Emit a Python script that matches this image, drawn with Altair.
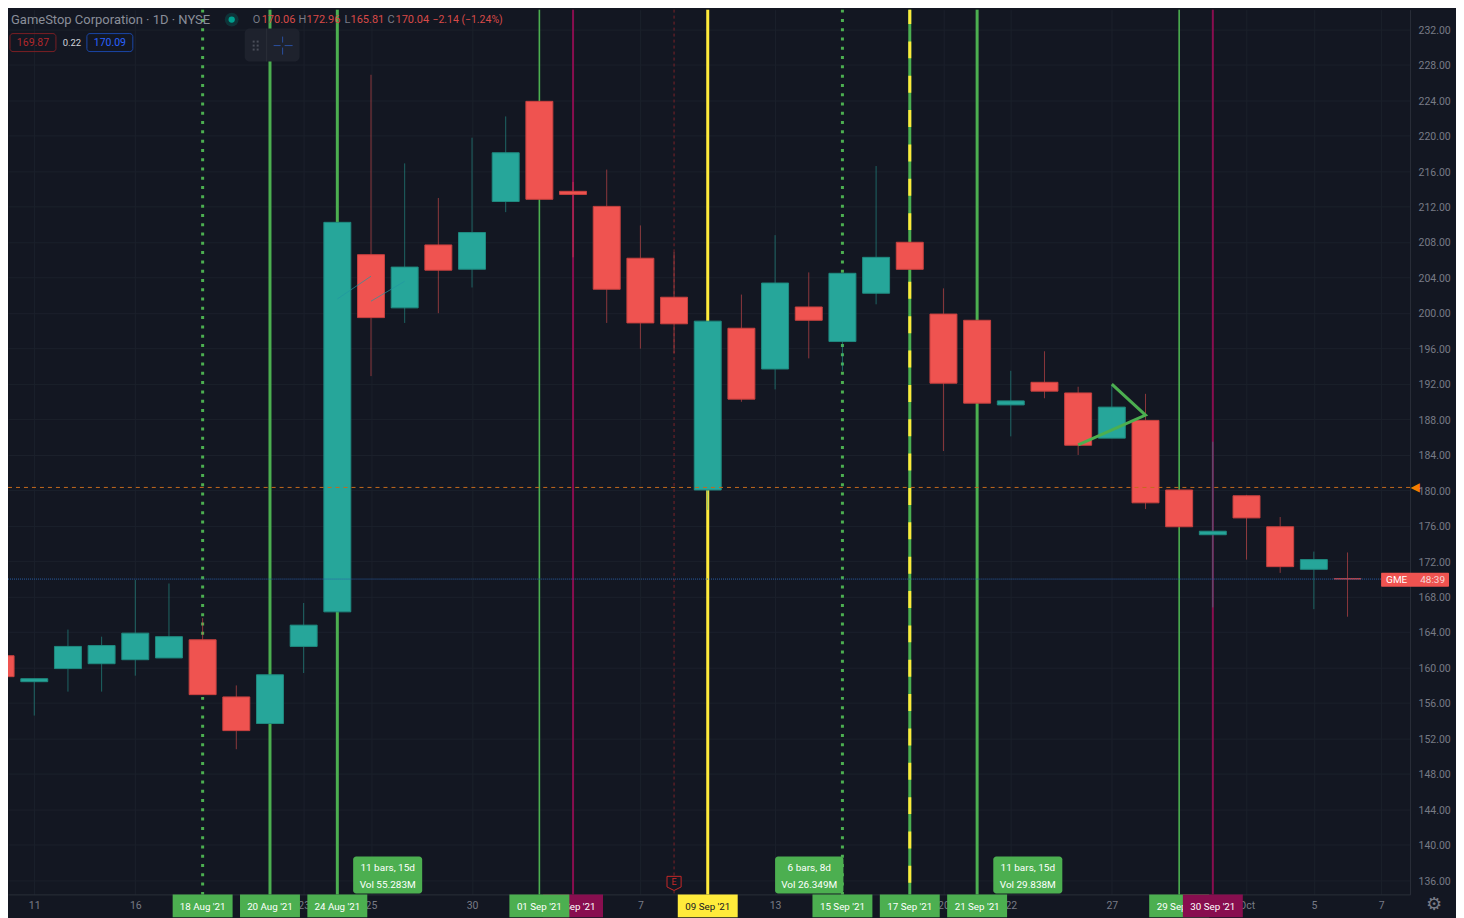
import altair as alt
import pandas as pd

idx = list(range(-1, 40))
opens = [161.35,158.42,159.9,160.45,160.9,161.1,163.15,156.7,153.7,162.4,166.3,206.6,200.6,207.7,204.96,212.6,223.9,213.75,212.05,206.2,201.8,180.05,198.3,193.7,200.7,196.8,202.25,208.0,199.9,199.2,189.65,192.2,191.0,185.9,187.9,180.05,175.0,179.4,175.9,171.1,170.06]
closes = [158.99,158.76,162.4,162.5,163.9,163.5,156.96,152.9,159.2,164.8,210.25,199.5,205.2,204.85,209.1,218.1,212.85,213.4,202.7,198.9,198.8,199.1,190.3,203.4,199.2,204.5,206.3,204.95,192.1,189.85,190.1,191.2,185.1,189.4,178.6,175.9,175.4,176.9,171.4,172.2,170.0]
highs = [161.35,158.76,164.3,163.5,169.9,169.5,165.6,158.0,159.2,167.3,210.25,226.9,216.9,213.0,219.8,222.2,223.9,214.8,216.2,209.9,206.9,199.1,202.1,208.8,204.6,204.5,216.6,208.0,202.8,199.2,193.5,195.7,191.7,191.9,190.9,180.05,185.5,179.5,177.0,173.1,173.0]
lows = [158.99,154.6,157.3,157.3,159.1,161.1,156.96,150.8,153.7,159.4,166.3,192.9,198.9,200.0,202.9,211.4,212.85,206.3,198.9,196.0,195.5,177.8,190.0,191.4,194.9,193.5,201.0,204.95,184.45,189.85,186.1,190.4,184.0,185.9,177.9,175.9,166.8,172.2,170.7,166.6,165.75]

tick_pos = [0,3,8,10,13,16,18,22,27,29,32,36,38,40]
tick_txt = ["11","16","23","25","30","Sep","7","13","20","22","27","Oct","5","7"]
price_ticks = list(range(136, 233, 4))

BG = "#131722"; GRID = "#1b202b"; AX = "#787b86"; EDGE = "#2a2e39"
RED = "#ef5350"; TEAL = "#26a69a"; GREEN = "#4caf50"; PURPLE = "#880e4f"; YELLOW = "#ffeb3b"
FONT = "Roboto"
W, H = 1404, 886

xs = alt.Scale(domain=[-0.78, 40.857], nice=False, zero=False, padding=0)
ys = alt.Scale(domain=[134.42, 234.25], nice=False, zero=False, padding=0)
label_expr = "{" + ",".join(f"'{p}':'{t}'" for p, t in zip(tick_pos, tick_txt)) + "}[''+datum.value]"
x_axis = alt.Axis(values=tick_pos, labelExpr=label_expr, title=None, grid=True, gridColor=GRID,
                  domainColor=EDGE, ticks=False, labelColor=AX, labelFont=FONT, labelFontSize=10.5,
                  labelPadding=6, labelOverlap=False, labelFlush=False, labelBound=False)
y_axis = alt.Axis(values=price_ticks, format=".2f", orient="right", title=None, grid=True, gridColor=GRID,
                  domainColor=EDGE, ticks=False, labelColor=AX, labelFont=FONT, labelFontSize=10.5,
                  labelPadding=8, labelOffset=0.7, labelOverlap=False, labelFlush=False, labelBound=False)
X = alt.X("i:Q", scale=xs, axis=x_axis)
Y = alt.Y("p:Q", scale=ys, axis=y_axis)
one = pd.DataFrame({"a": [0]})
layers = []

candles = pd.DataFrame({"i": idx, "o": opens, "c": closes, "h": highs, "l": lows})
candles["d"] = ["up" if c >= o else "down" for o, c in zip(opens, closes)]
color = alt.Color("d:N", scale=alt.Scale(domain=["up", "down"], range=[TEAL, RED]), legend=None)
stroke = alt.Stroke("d:N", scale=alt.Scale(domain=["up", "down"], range=["#1f8a80", "#c9413f"]), legend=None)

# vertical drawing lines
vlines = [
    (5, GREEN, 3, [3, 6.3], 0), (7, GREEN, 3, None, 0), (9, GREEN, 3, None, 0), (15, GREEN, 1.6, None, 0),
    (16, PURPLE, 2, None, 0), (19, "#7a2228", 1, [3, 3], 0), (20, YELLOW, 3, None, 0), (24, GREEN, 3, [3, 6.3], 0),
    (26, GREEN, 3, None, 0), (26, YELLOW, 3, [17, 17.4], 2.6), (28, GREEN, 3, None, 0), (34, GREEN, 1.6, None, 0),
    (35, PURPLE, 2, None, 0),
]
for i, col, w, dash, off in vlines:
    kw = {"strokeDash": dash, "strokeDashOffset": off} if dash else {}
    layers.append(alt.Chart(pd.DataFrame({"i": [i]})).mark_rule(color=col, strokeWidth=w, **kw).encode(
        x=X, y=alt.value(0), y2=alt.value(H)))

# candles
layers.append(alt.Chart(candles).mark_rule(strokeWidth=1, opacity=0.55, clip=True).encode(
    x=X, y=alt.Y("h:Q", scale=ys, axis=y_axis), y2="l:Q", color=color))
layers.append(alt.Chart(candles).mark_bar(size=27, strokeWidth=1, clip=True).encode(
    x=X, y=alt.Y("o:Q", scale=ys, axis=y_axis), y2="c:Q", color=color, stroke=stroke))

# price lines
for price, col, dash in [(180.34, "#c56a1e", [4, 4]), (170.0, "#2a5fa8", [1, 1])]:
    layers.append(alt.Chart(pd.DataFrame({"p": [price]})).mark_rule(color=col, strokeWidth=1, strokeDash=dash).encode(
        y=Y, x=alt.value(0), x2=alt.value(W)))

# trend lines
trend = pd.DataFrame({"i": [31, 33, 32], "p": [185.13, 188.5, 192.0], "n": [0, 1, 2]})
layers.append(alt.Chart(trend).mark_line(color=GREEN, strokeWidth=3).encode(x=X, y=Y, order="n:Q"))
for xi, pr in [([9, 10], [201.6, 204.17]), ([10, 11], [201.35, 203.6])]:
    layers.append(alt.Chart(pd.DataFrame({"i": xi, "p": pr})).mark_line(color="#2196a0", strokeWidth=1, opacity=0.7).encode(x=X, y=Y))

# info boxes
infos = [(9.47, 11.52, "11 bars, 15d", "Vol 55.283M"), (22.0, 24.03, "6 bars, 8d", "Vol 26.349M"), (28.48, 30.53, "11 bars, 15d", "Vol 29.838M")]
for a, b, l1, l2 in infos:
    d = pd.DataFrame({"i": [a], "j": [b], "m": [(a + b) / 2]})
    layers.append(alt.Chart(d).mark_rect(color=GREEN, cornerRadius=3).encode(
        x=X, x2="j:Q", y=alt.value(848), y2=alt.value(885)))
    for txt, yy in [(l1, 859.5), (l2, 876.5)]:
        layers.append(alt.Chart(d).mark_text(text=txt, color="#ffffff", font=FONT, fontSize=10, align="center", baseline="middle").encode(
            x=alt.X("m:Q", scale=xs, axis=x_axis), y=alt.value(yy)))

# date flags
flags = [(5, "18 Aug '21", GREEN, "#fff"), (7, "20 Aug '21", GREEN, "#fff"), (9, "24 Aug '21", GREEN, "#fff"),
         (16, "02 Sep '21", PURPLE, "#fff"), (15, "01 Sep '21", GREEN, "#fff"), (20, "09 Sep '21", YELLOW, "#131722"),
         (24, "15 Sep '21", GREEN, "#fff"), (26, "17 Sep '21", GREEN, "#fff"), (28, "21 Sep '21", GREEN, "#fff"),
         (34, "29 Sep '21", GREEN, "#fff"), (35, "30 Sep '21", PURPLE, "#fff")]
for i, txt, bg, fg in flags:
    d = pd.DataFrame({"i": [i - 0.89], "j": [i + 0.89], "m": [i]})
    layers.append(alt.Chart(d).mark_rect(color=bg).encode(x=X, x2="j:Q", y=alt.value(H), y2=alt.value(H + 23)))
    layers.append(alt.Chart(d).mark_text(text=txt, color=fg, font=FONT, fontSize=9.8, align="center", baseline="middle").encode(
        x=alt.X("m:Q", scale=xs, axis=x_axis), y=alt.value(H + 13)))

# earnings marker
layers.append(alt.Chart(pd.DataFrame({"i": [19]})).mark_point(
    shape="M-1,-1H1V0.5L0,1L-1,0.5Z", filled=False, stroke="#c62828", strokeWidth=1, size=200, fill=BG, opacity=1).encode(
    x=X, y=alt.value(875)))
layers.append(alt.Chart(pd.DataFrame({"i": [19]})).mark_text(text="E", color="#c62828", font=FONT, fontSize=9, align="center", baseline="middle").encode(
    x=X, y=alt.value(874)))

# chrome, in page pixels relative to the plot origin
def t(x, y, txt, col, size=11.5, align="left", font=FONT, weight="normal"):
    return alt.Chart(one).mark_text(text=txt, color=col, font=font, fontSize=size, align=align, baseline="middle", fontWeight=weight).encode(
        x=alt.value(x - 8), y=alt.value(y - 9))

def box(x0, x1, y0, y1, fill=None, stroke=None, r=3, op=1):
    kw = {"fill": fill if fill else "transparent", "cornerRadius": r, "opacity": op}
    if stroke:
        kw.update(stroke=stroke, strokeWidth=1)
    return alt.Chart(one).mark_rect(**kw).encode(
        x=alt.value(x0 - 8), x2=alt.value(x1 - 8), y=alt.value(y0 - 9), y2=alt.value(y1 - 9))

def line(x0, y0, x1, y1, col, w=1):
    return alt.Chart(one).mark_rule(color=col, strokeWidth=w).encode(
        x=alt.value(x0 - 8), x2=alt.value(x1 - 8), y=alt.value(y0 - 9), y2=alt.value(y1 - 9))

layers += [
    t(11, 19, "GameStop Corporation · 1D · NYSE", "#8a8e99", 13),
    t(253, 19, "O", AX, 11), t(262, 19, "170.06", "#d84a48", 11),
    t(299, 19, "H", AX, 11), t(307, 19, "172.96", "#d84a48", 11),
    t(345, 19, "L", AX, 11), t(351, 19, "165.81", "#d84a48", 11),
    t(388, 19, "C", AX, 11), t(396, 19, "170.04", "#d84a48", 11),
    t(433, 19, "−2.14 (−1.24%)", "#d84a48", 10.5),
    alt.Chart(one).mark_point(filled=True, color="#00897b", opacity=0.25, size=190).encode(x=alt.value(224), y=alt.value(10)),
    alt.Chart(one).mark_point(filled=True, color="#00a08f", opacity=1, size=40).encode(x=alt.value(224), y=alt.value(10)),
    box(10, 56, 33, 51, stroke="#7a1f24"), t(33, 42, "169.87", "#b2282c", 10.5, "center"),
    t(72, 42, "0.22", "#d1d4dc", 9.5, "center"),
    box(87, 133, 33, 51, stroke="#1a46a8"), t(110, 42, "170.09", "#2962ff", 10.5, "center"),
    box(245, 300, 28, 61, fill="#1e222d", r=5),
    line(267, 28, 267, 61, "#2a2e39"),
    line(274, 45, 281, 45, "#2a4f9e"), line(285, 45, 293, 45, "#2a4f9e"),
    line(283, 36, 283, 42, "#2a4f9e"), line(283, 47, 283, 54, "#2a4f9e"),
]
for dx in (254, 258):
    for dy in (41, 45, 49):
        layers.append(box(dx - 1, dx + 1, dy - 1, dy + 1, fill="#4a4e59", r=0))

# axis side items
layers += [
    t(1417, 487, "◀", "#f57c00", 12, "center", "DejaVu Sans"),
    box(1383, 1451, 573, 587, fill="#ef5350", r=1),
    t(1388, 580, "GME", "#ffffff", 10), t(1447, 580, "48:39", "#f6d7d6", 10, "right"),
    t(1436, 906, "⚙", AX, 18, "center", "DejaVu Sans"),
]

chart = alt.layer(*layers).properties(
    width=W, height=H, background=BG,
    padding={"left": 0, "top": 1, "right": 46, "bottom": 23},
    autosize=alt.AutoSizeParams(type="none"),
).configure_view(strokeWidth=0).resolve_scale(x="shared", y="shared")

chart.save("out.html", embed_options={"renderer": "svg", "actions": False})
